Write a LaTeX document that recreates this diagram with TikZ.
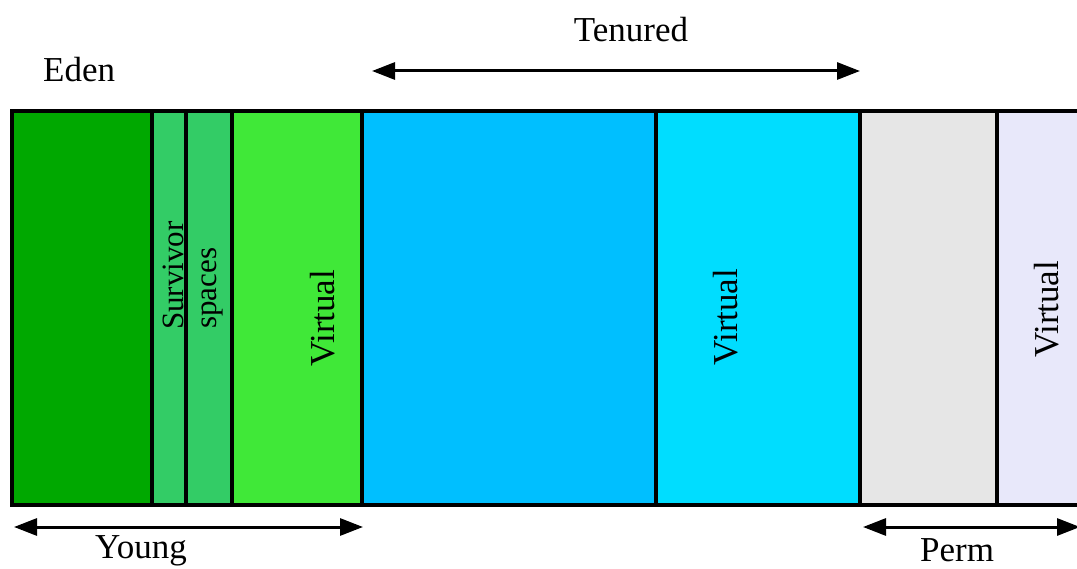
\documentclass[tikz,border=0pt]{standalone}
\usepackage{fontspec}
\setmainfont{Liberation Serif}
\usetikzlibrary{arrows.meta}
\definecolor{eden}{RGB}{0,168,0}
\definecolor{surv}{RGB}{51,204,102}
\definecolor{youngv}{RGB}{64,232,56}
\definecolor{ten}{RGB}{0,191,255}
\definecolor{tenv}{RGB}{0,221,255}
\definecolor{perm}{RGB}{230,230,230}
\definecolor{permv}{RGB}{232,232,250}
\begin{document}
\begin{tikzpicture}[x=1pt,y=-1pt,
  divider/.style={draw=black,line width=4pt},
  lab/.style={font=\fontsize{35}{40}\selectfont, inner sep=0pt},
  vlab/.style={lab, rotate=90, anchor=base west},
  smallv/.style={vlab, font=\fontsize{31}{36}\selectfont},
  span/.style={line width=3pt, {Triangle[length=23pt,width=17pt]}-{Triangle[length=23pt,width=17pt]}}]
\useasboundingbox (0,0) rectangle (1077,569);
\begin{scope}
\clip (0,0) rectangle (1077,569);
% fills
\fill[eden]   (12,111) rectangle (152,505);
\fill[surv]   (152,111) rectangle (232,505);
\fill[youngv] (232,111) rectangle (362,505);
\fill[ten]    (362,111) rectangle (656,505);
\fill[tenv]   (656,111) rectangle (860,505);
\fill[perm]   (860,111) rectangle (997,505);
\fill[permv]  (997,111) rectangle (1090,505);
% dividers
\foreach \xx in {152,186,232,362,656,860,997}
  \draw[divider] (\xx,111) -- (\xx,505);
\draw[divider,line cap=rect] (12,505) -- (12,111) -- (1090,111);
\draw[divider,line cap=rect] (12,505) -- (1090,505);
% labels
\node[smallv] (surv) at (183,330) {Survivor};
\node[smallv] (spac) at (216,329) {spaces};
\node[vlab] (yv) at (334,367) {Virtual};
\node[vlab] (tv) at (737,366) {Virtual};
\node[vlab] (pv) at (1058,358) {Virtual};
\node[lab,anchor=base west] (eden) at (43,82) {Eden};
\node[lab,anchor=base] (tenured) at (631,42) {Tenured};
\node[lab,anchor=base west] (young) at (95,558) {Young};
\node[lab,anchor=base west] (permlab) at (920,561) {Perm};
% spans
\coordinate (ya) at (14,527);
\coordinate (yb) at (363,527);
\coordinate (ta) at (372,71);
\coordinate (tb) at (860,71);
\coordinate (pa) at (863,527);
\coordinate (pb) at (1080,527);
\draw[span] (ya) -- (yb);
\draw[span] (ta) -- (tb);
\draw[span] (pa) -- (pb);
\end{scope}
\end{tikzpicture}
\end{document}
